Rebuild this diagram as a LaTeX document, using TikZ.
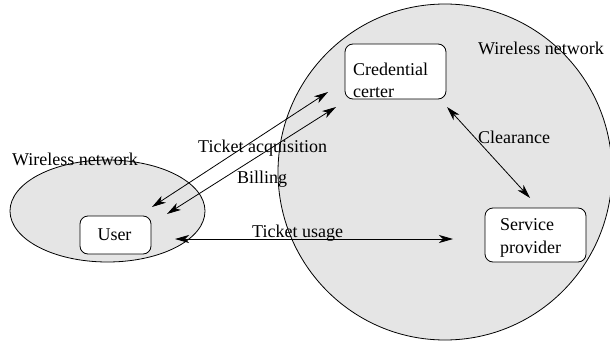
\documentclass[tikz,border=0pt]{standalone}
\usepackage{fontspec}
\setmainfont{Liberation Serif}
\usetikzlibrary{arrows.meta,shapes.geometric}
\definecolor{netgray}{HTML}{E5E5E5}
\tikzset{
  net/.style={ellipse, draw, fill=netgray, line width=0.8pt, inner sep=0pt},
  box/.style={draw, fill=white, rounded corners=8pt, line width=0.8pt, inner sep=0pt},
  txt/.style={anchor=base west, inner sep=0pt, font=\fontsize{18}{22}\selectfont},
  conn/.style={line width=0.8pt, {Stealth[length=14pt,width=8pt,inset=4pt]}-{Stealth[length=14pt,width=8pt,inset=4pt]}}
}
\begin{document}
\begin{tikzpicture}[x=1pt,y=-1pt]
\useasboundingbox (0,0) rectangle (610,345);
\clip (0,0) rectangle (610,345);
% networks
\node[net, minimum width=334pt, minimum height=336pt] (bignet) at (445,172) {};
\node[net, minimum width=195pt, minimum height=102pt] (smallnet) at (107.5,211) {};
% boxes
\node[box, minimum width=71pt, minimum height=38pt] (user) at (115.5,235) {};
\node[box, minimum width=101pt, minimum height=55pt] (cc) at (395.5,71.5) {};
\node[box, minimum width=101pt, minimum height=54pt] (sp) at (535.5,235) {};
% box texts
\node[anchor=base, inner sep=0pt, font=\fontsize{18}{22}\selectfont] (usertxt) at (114.5,240) {User};
\node[txt] (cctxt1) at (353,75) {Credential};
\node[txt] (cctxt2) at (353,97) {certer};
\node[txt] (sptxt1) at (500,230) {Service};
\node[txt] (sptxt2) at (500,253) {provider};
% network labels
\node[txt] (wnleft) at (12,165) {Wireless network};
\node[txt] (wnright) at (478,55) {Wireless network};
% connector end points
\coordinate (ta1) at (152,207);
\coordinate (ta2) at (328,92);
\coordinate (bi1) at (167,214);
\coordinate (bi2) at (336,107);
\coordinate (cl1) at (447,107);
\coordinate (cl2) at (530,198);
\coordinate (tu1) at (175,239);
\coordinate (tu2) at (453,239);
% connectors
\draw[conn] (ta1) -- (ta2);
\draw[conn] (bi1) -- (bi2);
\draw[conn] (cl1) -- (cl2);
\draw[conn] (tu1) -- (tu2);
% connector labels
\node[txt] (talbl) at (198,152) {Ticket acquisition};
\node[txt] (bilbl) at (237,183) {Billing};
\node[txt] (cllbl) at (478,143) {Clearance};
\node[txt] (tulbl) at (252,237) {Ticket usage};
\end{tikzpicture}
\end{document}
